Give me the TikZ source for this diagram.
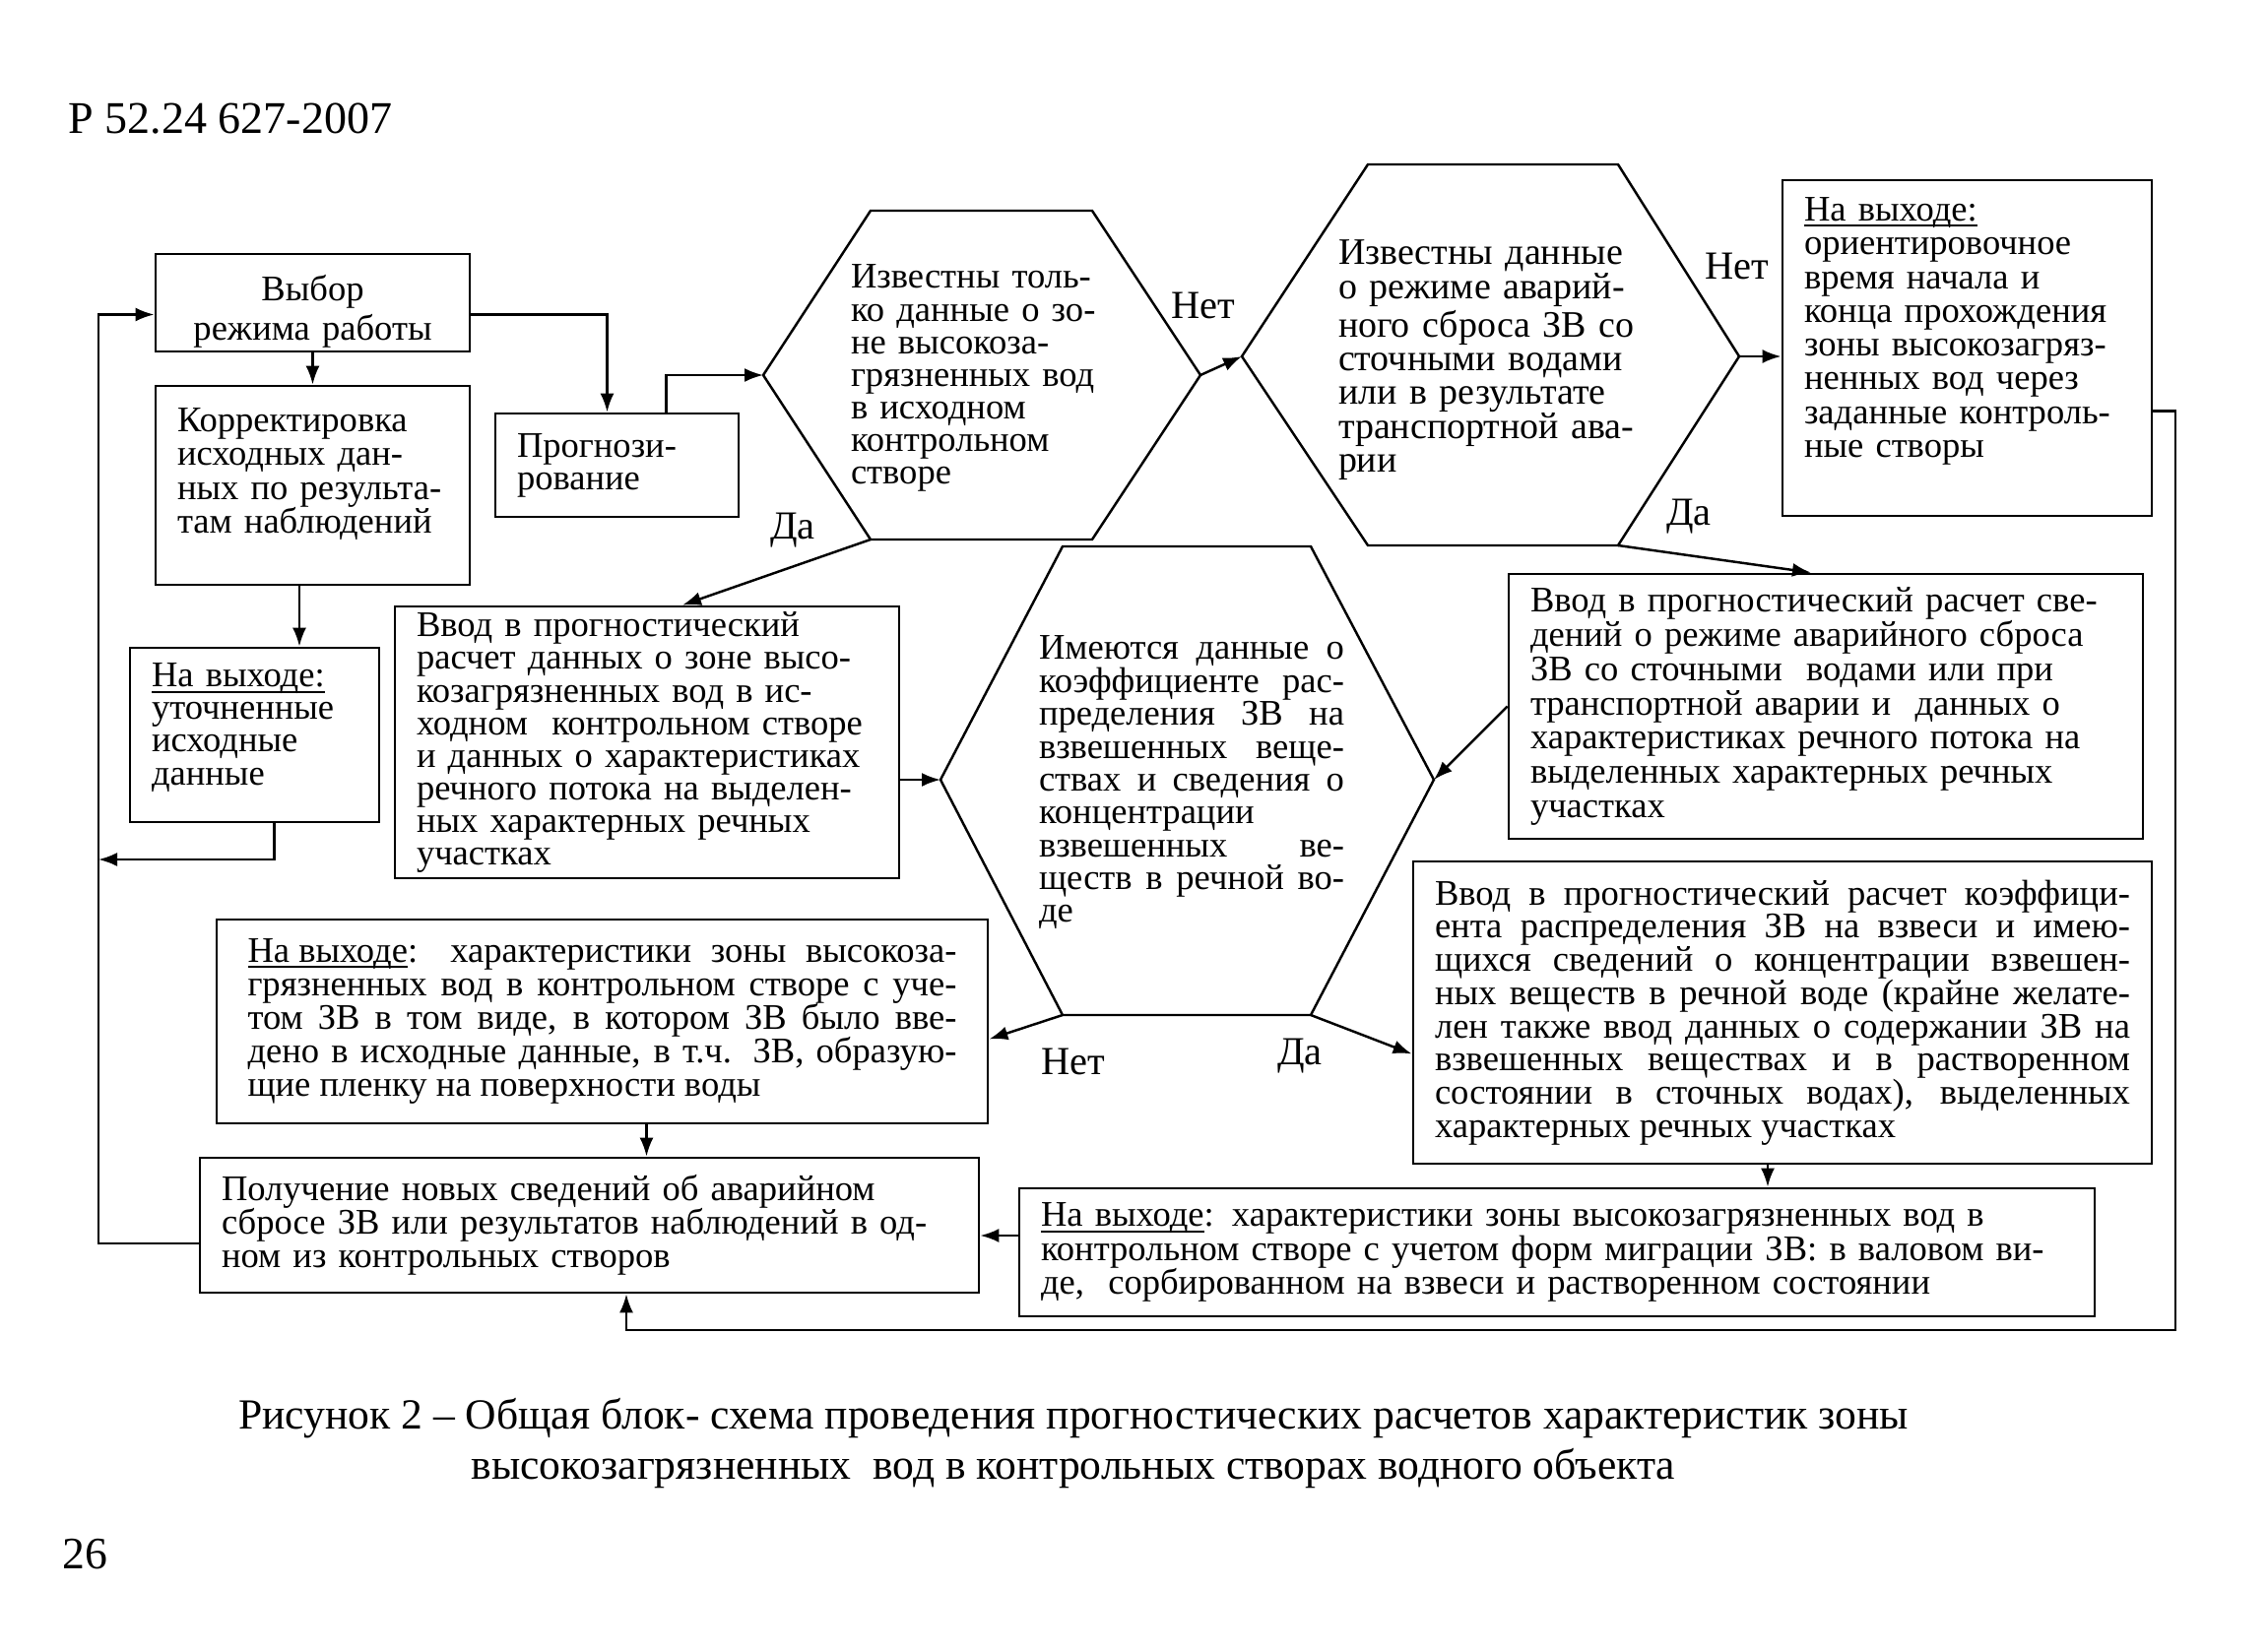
\documentclass[tikz,border=0pt]{standalone}
\usepackage{fontspec}
\setmainfont{Liberation Serif}
\usetikzlibrary{arrows.meta}

\tikzset{
  blk/.style={draw, line width=.8pt, inner xsep=2.2mm, inner ysep=0pt, align=left,
    font={\fontsize{10.4pt}{9.7pt}\selectfont}},
  hexa/.style={draw, line width=.7pt, line join=miter},
  hextext/.style={inner sep=0pt, align=left, font={\fontsize{10.4pt}{9.7pt}\selectfont}},
  arr/.style={-{Latex[length=1.9mm,width=1.4mm]}, line width=.7pt},
  lab/.style={inner sep=0pt, font={\fontsize{11.5pt}{12pt}\selectfont}},
}
\newcommand{\padb}[1]{\rule[-#1]{0pt}{#1}}
\newcommand{\ulin}[1]{\sbox0{#1}\rlap{\rule[-1.6pt]{\wd0}{.55pt}}\usebox0}

\begin{document}
\begin{tikzpicture}[x=0.1mm, y=-0.1mm]
        \path[fill=white, use as bounding box] (0,0) rectangle (2303,1678);
        % Page header
        \node[anchor=base west, inner sep=0pt, font={\fontsize{13.1pt}{14pt}\selectfont}] (code) at (69,135) {Р 52.24 627-2007};
        % Left column
        \node[blk, minimum width=31.9mm, minimum height=9.9mm, text width=27.5mm, align=center,
          font={\fontsize{10.4pt}{11.4pt}\selectfont}] (sel) at (317.5,307.5) {\rule{0pt}{12.5pt}Выбор\\режима работы};
        \node[blk, minimum width=31.9mm, minimum height=20.2mm, text width=27.5mm] (corr) at (317.5,493)
          {Корректировка\\исходных дан-\\ных по результа-\\там наблюдений\padb{3mm}};
        \node[blk, minimum width=25.3mm, minimum height=17.7mm, text width=20.9mm,
          font={\fontsize{10.4pt}{9.4pt}\selectfont}] (outA) at (258.5,746.5)
          {\ulin{На выходе:}\\уточненные\\исходные\\данные\padb{2.2mm}};
        \node[blk, minimum width=24.7mm, minimum height=10.5mm, text width=20.3mm,
          font={\fontsize{10.4pt}{9.4pt}\selectfont}] (prog) at (626.5,472.5) {Прогнози-\\рование};
        % Hexagon: zone data known
        \draw[hexa] (775,381) coordinate (hz-l) -- (884,214) -- (1109,214) -- (1219,381) coordinate (hz-r)
          -- (1109,548) coordinate (hz-br) -- (884,548) coordinate (hz-bl) -- cycle;
        \node[hextext, text width=25mm, font={\fontsize{10.4pt}{9.4pt}\selectfont}] (hz) at (989,384)
          {Известны толь-\\ко данные о зо-\\не высокоза-\\грязненных вод\\в исходном\\контрольном\\створе};
        % Hexagon: dump data known
        \draw[hexa] (1261,362) coordinate (hd-l) -- (1389,167) -- (1643,167) -- (1766,362) coordinate (hd-r)
          -- (1643,554) coordinate (hd-br) -- (1389,554) coordinate (hd-bl) -- cycle;
        \node[hextext, text width=33mm, font={\fontsize{10.8pt}{9.8pt}\selectfont}] (hd) at (1524,366)
          {Известны данные\\о режиме аварий-\\ного сброса ЗВ со\\сточными водами\\или в результате\\транспортной ава-\\рии};
        % Hexagon: distribution coefficient
        \draw[hexa] (955,792) coordinate (hc-l) -- (1079,555) -- (1331,555) -- (1456,792) coordinate (hc-r)
          -- (1331,1031) coordinate (hc-br) -- (1079,1031) coordinate (hc-bl) -- cycle;
        \node[hextext, text width=31mm, align=justify, font={\fontsize{10.4pt}{9.5pt}\selectfont}] (hc) at (1210,795)
          {Имеются данные о\linebreak коэффициенте рас-\linebreak пределения ЗВ на\linebreak взвешенных веще-\linebreak
           ствах и сведения о\linebreak концентрации\linebreak взвешенных ве-\linebreak ществ в речной во-\linebreak де};
        % Output and input boxes
        \node[blk, minimum width=37.5mm, minimum height=34.1mm, text width=33.1mm,
          font={\fontsize{10.4pt}{9.75pt}\selectfont}] (outTime) at (1997.5,353.5)
          {\ulin{На выходе:}\\ориентировочное\\время начала и\\конца прохождения\\зоны высокозагряз-\\ненных вод через\\заданные контроль-\\ные створы\padb{4.2mm}};
        \node[blk, minimum width=51.2mm, minimum height=27.6mm, text width=46.8mm,
          font={\fontsize{10.4pt}{9.4pt}\selectfont}] (inZone) at (657,754)
          {Ввод в прогностический\\расчет данных о зоне высо-\\козагрязненных вод в ис-\\ходном\ \ контрольном створе\\и данных о характеристиках\\речного потока на выделен-\\ных характерных речных\\участках};
        \node[blk, minimum width=64.4mm, minimum height=26.9mm, text width=60mm,
          font={\fontsize{10.4pt}{9.9pt}\selectfont}] (inDump) at (1854,717.5)
          {Ввод в прогностический расчет све-\\дений о режиме аварийного сброса\\ЗВ со сточными\ \ водами или при\\транспортной аварии и\ \ данных о\\характеристиках речного потока на\\выделенных характерных речных\\участках};
        \node[blk, minimum width=75mm, minimum height=30.7mm, text width=70.6mm, align=justify,
          font={\fontsize{10.4pt}{9.6pt}\selectfont}] (inCoef) at (1810,1028.5)
          {Ввод в прогностический расчет коэффици-\linebreak ента распределения ЗВ на взвеси и имею-\linebreak
           щихся сведений о концентрации взвешен-\linebreak ных веществ в речной воде (крайне желате-\linebreak
           лен также ввод данных о содержании ЗВ на\linebreak взвешенных веществах и в растворенном\linebreak
           состоянии в сточных водах), выделенных\linebreak характерных речных участках};
        \node[blk, minimum width=78.3mm, minimum height=20.7mm, text width=72mm, align=justify] (outFilm) at (611.5,1037.5)
          {\ulin{На выходе}: характеристики зоны высокоза-\linebreak грязненных вод в контрольном створе с уче-\linebreak
           том ЗВ в том виде, в котором ЗВ было вве-\linebreak дено в исходные данные, в т.ч. ЗВ, образую-\linebreak
           щие пленку на поверхности воды};
        \node[blk, minimum width=79.1mm, minimum height=13.7mm, text width=74.7mm] (newData) at (598.5,1244.5)
          {Получение новых сведений об аварийном\\сбросе ЗВ или результатов наблюдений в од-\\ном из контрольных створов};
        \node[blk, minimum width=109.2mm, minimum height=13mm, text width=104.8mm] (outMig) at (1581,1272)
          {\ulin{На выходе}: характеристики зоны высокозагрязненных вод в\\контрольном створе с учетом форм миграции ЗВ: в валовом ви-\\де,\ \ сорбированном на взвеси и растворенном состоянии};
        % Connectors
        \draw[arr] (sel) -- (corr);
        \draw[arr] ([yshift=-1.2mm]sel.east) -| ([xshift=-1mm]prog.north);
        \draw[arr] ([xshift=5mm]prog.north) |- (hz-l);
        \draw[arr] ([xshift=-1.35mm]corr.south) -- ([xshift=-1.35mm]corr.south |- outA.north);
        \coordinate (fbA) at (100,873);
        \draw[arr] ([xshift=2mm]outA.south) |- (fbA);
        \draw[arr] (hz-r) -- (hd-l);
        \draw[arr] (hd-r) -- (hd-r -| outTime.west);
        \draw[arr] (hd-br) -- ([xshift=-1.5mm]inDump.north);
        \draw[arr] (hz-bl) -- ([xshift=3.6mm]inZone.north);
        \draw[arr] (hc-l -| inZone.east) -- (hc-l);
        \draw[arr] (inDump.west) -- (hc-r);
        \draw[arr] (hc-bl) -- ([yshift=-1.8mm]outFilm.east);
        \draw[arr] (hc-br) -- ([yshift=-4.2mm]inCoef.west);
        \draw[arr] ([xshift=4.5mm]outFilm.south) -- ([xshift=4.5mm]outFilm.south |- newData.north);
        \draw[arr] ([xshift=-1.5mm]inCoef.south) -- ([xshift=-1.5mm]inCoef.south |- outMig.north);
        \draw[arr] ([yshift=1.7mm]outMig.west) -- ([yshift=1.7mm]outMig.west -| newData.east);
        % Feedback loops
        \coordinate (fbR) at (2209,1351);
        \draw[arr] ([yshift=-6.4mm]outTime.east) -| (fbR) -| ([xshift=3.75mm]newData.south);
        \draw[arr] ([yshift=-1.85mm]newData.west) -| (fbA) |- ([yshift=-1.2mm]sel.west);
        % Branch labels
        \node[lab] (noZone) at (1222,310) {Нет};
        \node[lab] (yesZone) at (805,539) {Да};
        \node[lab] (noDump) at (1764,270) {Нет};
        \node[lab] (yesDump) at (1715,525) {Да};
        \node[lab] (noCoef) at (1090,1078) {Нет};
        \node[lab] (yesCoef) at (1320,1073) {Да};
        % Caption and page number
        \node[inner sep=0pt, align=center, font={\fontsize{12.4pt}{14.5pt}\selectfont}] (caption) at (1090,1466)
          {Рисунок 2 – Общая блок- схема проведения прогностических расчетов характеристик зоны\\
           высокозагрязненных\ \ вод в контрольных створах водного объекта};
        \node[inner sep=0pt, font={\fontsize{13pt}{14pt}\selectfont}] (page) at (86,1579) {26};
\end{tikzpicture}
\end{document}
